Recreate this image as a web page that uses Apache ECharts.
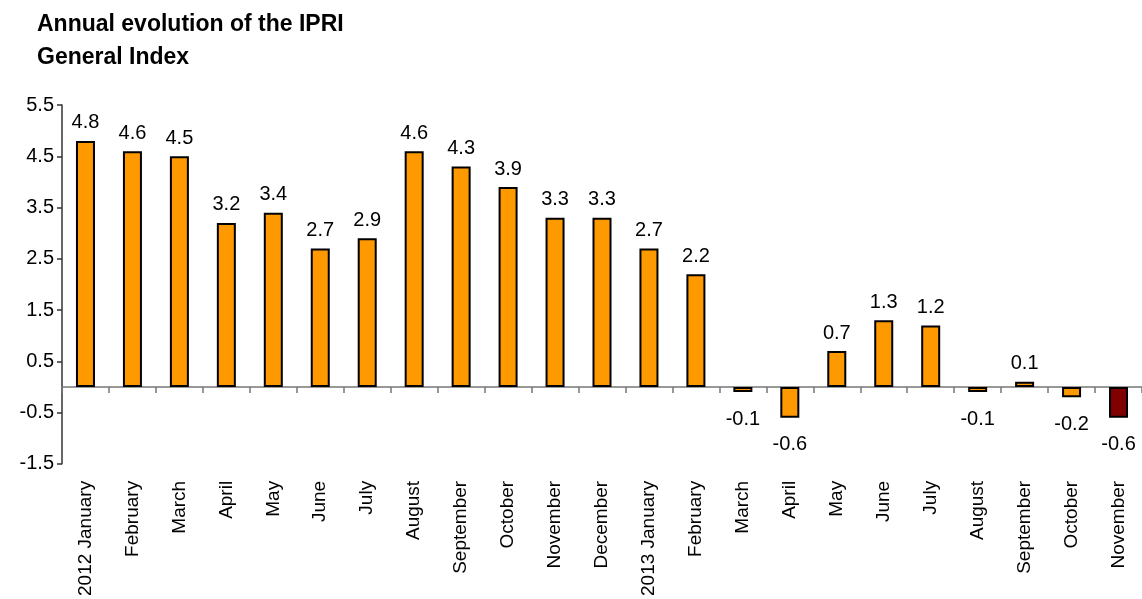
<!DOCTYPE html>
<html>
<head>
<meta charset="utf-8">
<script src="https://cdn.jsdelivr.net/npm/echarts@6/dist/echarts.min.js"></script>
<style>
  html, body { margin: 0; padding: 0; background: #fff; }
  #chart { width: 1142px; height: 599px; }
</style>
</head>
<body>
<div id="chart"></div>
<script>
// categories (months, Jan 2012 .. Nov 2013)
var months = ['2012 January', 'February', 'March', 'April', 'May', 'June', 'July',
  'August', 'September', 'October', 'November', 'December',
  '2013 January', 'February', 'March', 'April', 'May', 'June', 'July',
  'August', 'September', 'October', 'November'];
// annual variation of the IPRI General Index (%)
var ipriValues = [4.8, 4.6, 4.5, 3.2, 3.4, 2.7, 2.9, 4.6, 4.3, 3.9, 3.3, 3.3,
  2.7, 2.2, -0.1, -0.6, 0.7, 1.3, 1.2, -0.1, 0.1, -0.2, -0.6];
// y axis ticks
var yMin = -1.5, yMax = 5.5, yStep = 1;

var orange = '#FF9900';
var lastColor = '#800000';

var chart = echarts.init(document.getElementById('chart'));

var barData = ipriValues.map(function (v, i) {
  var item = { value: v };
  if (i === ipriValues.length - 1) item.itemStyle = { color: lastColor };
  if (v < 0) item.label = { position: 'bottom', distance: 17 };
  return item;
});

var option = {
  animation: false,
  textStyle: { fontFamily: 'Liberation Sans, Arial, sans-serif' },
  title: {
    text: 'Annual evolution of the IPRI\nGeneral Index',
    left: 32,
    top: 3,
    textStyle: {
      fontSize: 23,
      fontWeight: 'bold',
      color: '#000',
      lineHeight: 33,
      fontFamily: 'Liberation Sans, Arial, sans-serif'
    }
  },
  grid: { left: 62, right: -6, top: 105, bottom: 134, containLabel: false },
  xAxis: [
    {
      type: 'category',
      data: months,
      position: 'bottom',
      axisLine: { show: false, onZero: false },
      axisTick: { show: false },
      axisLabel: {
        rotate: 90,
        interval: 0,
        margin: 17,
        fontSize: 19,
        color: '#000'
      }
    },
    {
      type: 'category',
      data: months,
      position: 'top',
      axisLine: { show: true, onZero: true, lineStyle: { color: '#777', width: 1.5 } },
      axisTick: { show: true, inside: true, length: 6, interval: 0, lineStyle: { color: '#777', width: 1.5 } },
      axisLabel: { show: false }
    }
  ],
  yAxis: {
    type: 'value',
    min: yMin,
    max: yMax,
    interval: yStep,
    splitLine: { show: false },
    axisLine: { show: true, lineStyle: { color: '#333', width: 1.5 } },
    axisTick: { show: true, length: 5, lineStyle: { color: '#333', width: 1.5 } },
    axisLabel: {
      margin: 8,
      fontSize: 20,
      color: '#000',
      formatter: function (v) { return v.toFixed(1); }
    }
  },
  series: [
    {
      type: 'bar',
      xAxisIndex: 0,
      data: barData,
      barWidth: 19,
      itemStyle: { color: orange, borderColor: '#000', borderWidth: 2 },
      label: {
        show: true,
        position: 'top',
        distance: 8,
        fontSize: 20,
        color: '#000',
        formatter: function (p) { return p.value.toFixed(1); }
      }
    }
  ]
};

chart.setOption(option);
</script>
</body>
</html>
